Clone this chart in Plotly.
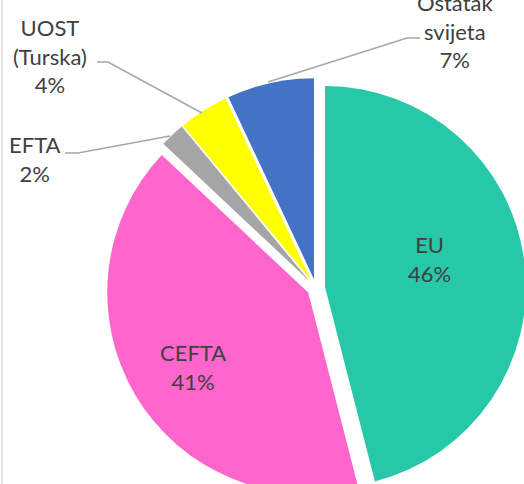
import plotly.graph_objects as go

# ---- data ----
categories = ["EU", "CEFTA", "EFTA", "UOST (Turska)", "Ostatak svijeta"]
label_lines = [["EU"], ["CEFTA"], ["EFTA"], ["UOST", "(Turska)"], ["Ostatak", "svijeta"]]
shares = [46, 41, 2, 4, 7]
colors = ["#26C8A8", "#FF66CC", "#A5A5A5", "#FFFF00", "#4472C4"]

W, H = 530, 500


def px(x):
    return x / W


def py(y):
    return 1 - y / H


fig = go.Figure(go.Pie(
    labels=categories,
    values=shares,
    sort=False,
    direction="clockwise",
    rotation=0,
    pull=[0.045] * len(shares),
    marker=dict(colors=colors, line=dict(width=0)),
    textinfo="none",
    hoverinfo="label+percent",
    domain=dict(x=[106 / W, 526 / W], y=[py(498), py(78)]),
    showlegend=False,
))

# label positions (pixel centres) and leader lines
label_pos = [(429, 259), (192.5, 367), (35, 159), (50, 56), (455, 31)]
leaders = [None, None,
           [(65, 153), (78, 153), (170, 136)],
           [(97, 62), (108, 62), (202, 113)],
           [(420, 38), (407, 38), (268, 82)]]

font = dict(family="Lato, Carlito, Calibri, sans-serif", size=22, color="#404040")
for lines, v, (x, y) in zip(label_lines, shares, label_pos):
    fig.add_annotation(
        x=px(x), y=py(y), xref="paper", yref="paper",
        text="<br>".join(lines + [f"{v}%"]),
        showarrow=False, font=font, align="center",
        xanchor="center", yanchor="middle",
    )

for pts in leaders:
    if pts is None:
        continue
    path = "M " + " L ".join(f"{px(a)},{py(b)}" for a, b in pts)
    fig.add_shape(type="path", path=path, xref="paper", yref="paper",
                  line=dict(color="#A6A6A6", width=1.5))

# chart-area border on the left
fig.add_shape(type="line", xref="paper", yref="paper",
              x0=px(2), x1=px(2), y0=0, y1=1,
              line=dict(color="#D9D9D9", width=1.5))

fig.update_layout(
    width=W, height=H,
    margin=dict(l=0, r=0, t=0, b=0),
    paper_bgcolor="white",
    plot_bgcolor="white",
)

fig.write_html(
    "out.html",
    config={"displayModeBar": False},
    post_script=(
        "document.body.style.margin='0';"
        "document.body.style.overflow='hidden';"
        "document.documentElement.style.overflow='hidden';"
    ),
)
